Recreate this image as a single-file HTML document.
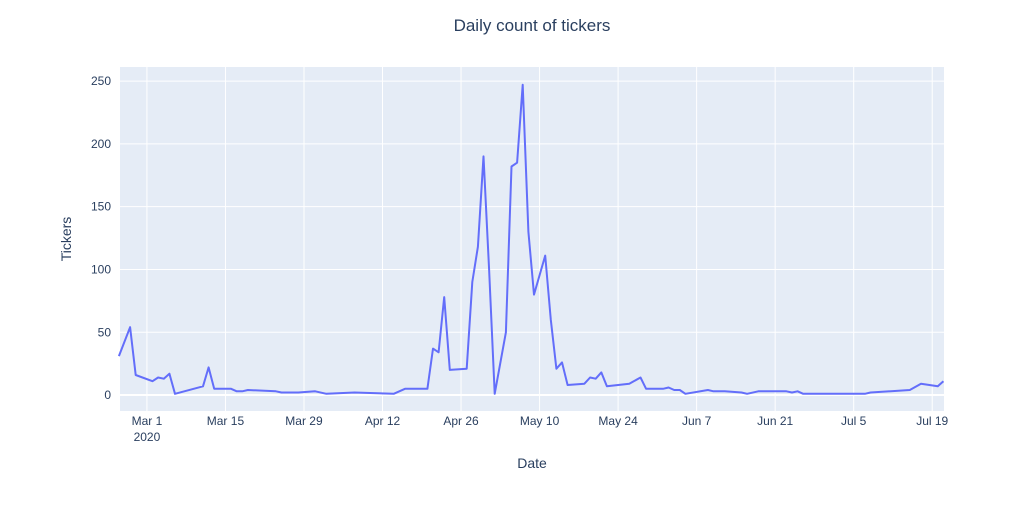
<!DOCTYPE html>
<html><head><meta charset="utf-8"><style>
body{margin:0;background:#fff;font-family:"Liberation Sans",sans-serif;}
svg text{font-family:"Liberation Sans",sans-serif;fill:#2a3f5f;}
</style></head><body>
<svg id="chart" width="1026" height="507" xmlns="http://www.w3.org/2000/svg">
<rect width="1026" height="507" fill="#fff"/>
<rect x="120" y="67" width="824" height="344" fill="#e5ecf6"/>
<g id="grid"></g>
<g id="xticks"></g>
<g id="yticks"></g>
<path id="line" fill="none" stroke="#636efa" stroke-width="2" stroke-linejoin="round"/>
<text x="532" y="31" text-anchor="middle" font-size="17">Daily count of tickers</text>
<text x="532" y="468" text-anchor="middle" font-size="14">Date</text>
<text x="71" y="239" text-anchor="middle" font-size="14" transform="rotate(-90 71 239)">Tickers</text>
</svg>
<script>
// days since Mar 1 2020
const days=[-5,-3,-2,1,2,3,4,5,10,11,12,15,16,17,18,23,24,27,30,32,37,44,46,50,51,52,53,54,57,58,59,60,61,62,64,65,66,67,68,69,71,72,73,74,75,78,79,80,81,82,86,88,89,92,93,94,95,96,100,101,103,106,107,109,114,115,116,117,128,129,136,138,141,142];
const counts=[31,54,16,11,14,13,17,1,7,22,5,5,3,3,4,3,2,2,3,1,2,1,5,5,37,34,78,20,21,90,118,190,100,1,50,182,185,247,130,80,111,60,21,26,8,9,14,13,18,7,9,14,5,5,6,4,4,1,4,3,3,2,1,3,3,2,3,1,1,2,4,9,7,11];
const xTickDays=[0,14,28,42,56,70,84,98,112,126,140];
const xTickLabels=["Mar 1","Mar 15","Mar 29","Apr 12","Apr 26","May 10","May 24","Jun 7","Jun 21","Jul 5","Jul 19"];
const yTicks=[0,50,100,150,200,250];
const X0=120,X1=944,Y0=67,Y1=411,dMin=-4.8,dMax=142.1,vMin=-12.7,vMax=261.2;
const xs=d=>X0+(d-dMin)/(dMax-dMin)*(X1-X0);
const ys=v=>Y1-(v-vMin)/(vMax-vMin)*(Y1-Y0);
const NS="http://www.w3.org/2000/svg";
const grid=document.getElementById('grid'),xt=document.getElementById('xticks'),yt=document.getElementById('yticks');
xTickDays.forEach((d,i)=>{
 const x=xs(d);
 const l=document.createElementNS(NS,'line');
 
 
 l.setAttribute('x1',x);l.setAttribute('x2',x);l.setAttribute('y1',Y0);l.setAttribute('y2',Y1);
 l.setAttribute('stroke','#fff');l.setAttribute('stroke-width','1');grid.appendChild(l);
 const t=document.createElementNS(NS,'text');
 
 
 t.setAttribute('x',x);t.setAttribute('y',425);t.setAttribute('text-anchor','middle');t.setAttribute('font-size','12');
 t.textContent=xTickLabels[i];xt.appendChild(t);
});
const yr=document.createElementNS(NS,'text');


yr.setAttribute('x',xs(0));yr.setAttribute('y',441);yr.setAttribute('text-anchor','middle');yr.setAttribute('font-size','12');
yr.textContent="2020";xt.appendChild(yr);
yTicks.forEach(v=>{
 const y=ys(v);
 const l=document.createElementNS(NS,'line');
 
 
 l.setAttribute('x1',X0);l.setAttribute('x2',X1);l.setAttribute('y1',y);l.setAttribute('y2',y);
 l.setAttribute('stroke','#fff');l.setAttribute('stroke-width',v===0?'2':'1');grid.appendChild(l);
 const t=document.createElementNS(NS,'text');
 
 
 t.setAttribute('x',118-7);t.setAttribute('y',y+4);t.setAttribute('text-anchor','end');t.setAttribute('font-size','12');
 t.textContent=v;yt.appendChild(t);
});
document.getElementById('line').setAttribute('d',days.map((d,i)=>(i?'L':'M')+xs(d).toFixed(1)+','+ys(counts[i]).toFixed(1)).join(''));
</script>
</body></html>
